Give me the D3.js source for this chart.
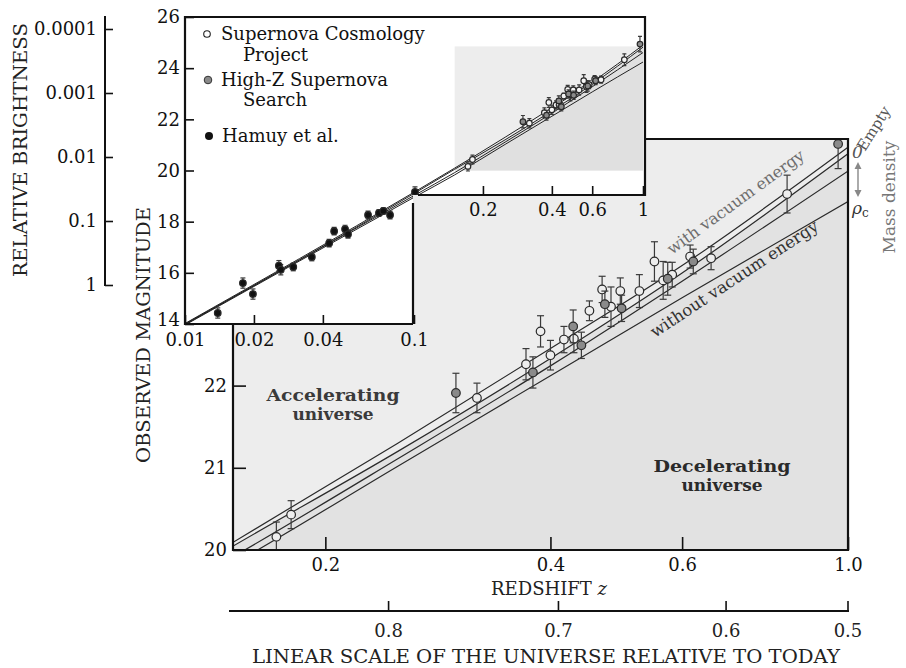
<!DOCTYPE html>
<html><head><meta charset="utf-8">
<script src="https://cdn.jsdelivr.net/npm/d3@7"></script>
<style>
body{margin:0;background:#fff}
svg{display:block;font-family:"DejaVu Serif",serif}
</style>
</head><body><script>
// Model magnitude-redshift curves
const curveZ = [0.01, 0.1, 0.15, 0.25, 0.4, 0.6, 1.0];
const withVacuum      = [14.02, 19.15, 20.085, 21.30, 22.45, 23.46, 24.90];
const emptyUniverse   = [14.00, 19.10, 20.04, 21.20, 22.33, 23.37, 24.82];
const halfDensity     = [13.98, 19.02, 19.91, 21.11, 22.24, 23.27, 24.61];
const criticalDensity = [13.96, 18.95, 19.82, 21.02, 22.12, 23.07, 24.24];

// Supernova Cosmology Project
const scpZ   = [0.172, 0.180, 0.319, 0.371, 0.388, 0.400, 0.417, 0.430, 0.451, 0.469, 0.482, 0.496, 0.526, 0.551, 0.566, 0.582, 0.615, 0.656, 0.829];
const scpMag = [20.16, 20.43, 21.85, 22.26, 22.66, 22.37, 22.56, 22.57, 22.91, 23.17, 22.96, 23.15, 23.15, 23.51, 23.28, 23.35, 23.57, 23.55, 24.33];
const scpErr = [0.18, 0.17, 0.18, 0.19, 0.19, 0.18, 0.16, 0.17, 0.12, 0.16, 0.24, 0.16, 0.20, 0.24, 0.23, 0.15, 0.14, 0.14, 0.23];

// High-Z Supernova Search
const hzZ   = [0.299, 0.379, 0.429, 0.440, 0.473, 0.498, 0.574, 0.621, 0.970];
const hzMag = [21.91, 22.16, 22.72, 22.49, 22.99, 22.94, 23.30, 23.51, 24.94];
const hzErr = [0.24, 0.19, 0.20, 0.16, 0.16, 0.16, 0.20, 0.15, 0.30];

// Hamuy et al. (nearby supernovae)
const hamZ   = [0.0139, 0.0179, 0.0198, 0.0257, 0.0262, 0.0297, 0.0358, 0.0426, 0.0448, 0.0500, 0.0515, 0.0630, 0.0703, 0.0735, 0.0786, 0.101];
const hamMag = [14.43, 15.60, 15.17, 16.28, 16.12, 16.23, 16.62, 17.16, 17.63, 17.71, 17.51, 18.26, 18.34, 18.42, 18.26, 19.16];
const hamErr = [0.2, 0.2, 0.2, 0.2, 0.2, 0.15, 0.15, 0.15, 0.15, 0.15, 0.15, 0.15, 0.12, 0.12, 0.15, 0.2];

// Axis ticks
const mainZTicks = [0.2, 0.4, 0.6, 1.0];
const mainMagTicks = [20, 21, 22];
const insetMagTicks = [14, 16, 18, 20, 22, 24, 26];
const insetZTicksLow = [0.01, 0.02, 0.04, 0.1];
const insetZTicksHigh = [0.2, 0.4, 0.6, 1];
const brightnessTicks = [0.0001, 0.001, 0.01, 0.1, 1];
const scaleFactorTicks = [0.8, 0.7, 0.6, 0.5];
const scaleFactorTickZ = [0.243, 0.41, 0.687, 1.0];

const W = 906, H = 668;
const svg = d3.select("body").append("svg").attr("width", W).attr("height", H);
const defs = svg.append("defs");

const curves = [withVacuum, emptyUniverse, halfDensity, criticalDensity];
const scp = scpZ.map((z, i) => ({z, m: scpMag[i], e: scpErr[i]}));
const hz = hzZ.map((z, i) => ({z, m: hzMag[i], e: hzErr[i]}));
const ham = hamZ.map((z, i) => ({z, m: hamMag[i], e: hamErr[i]}));

// ---------- main panel ----------
const M = {l: 233, r: 848, t: 139, b: 550};
const xMain = d3.scaleLog().domain([0.1505, 1]).range([M.l, M.r]);
const yMain = d3.scaleLinear().domain([20, 25]).range([M.b, M.t]);

defs.append("clipPath").attr("id", "clipMain").append("rect")
  .attr("x", M.l).attr("y", M.t).attr("width", M.r - M.l).attr("height", M.b - M.t);

const main = svg.append("g");
main.append("rect").attr("x", M.l).attr("y", M.t).attr("width", M.r - M.l).attr("height", M.b - M.t)
  .attr("fill", "#ededed");

const mainClip = main.append("g").attr("clip-path", "url(#clipMain)");
mainClip.append("path")
  .datum(curveZ.map((z, i) => [z, emptyUniverse[i]]))
  .attr("fill", "#e2e2e2")
  .attr("d", d3.area().x(d => xMain(d[0])).y0(yMain(19)).y1(d => yMain(d[1])).curve(d3.curveMonotoneX));

const lineMain = d3.line().x(d => xMain(d[0])).y(d => yMain(d[1])).curve(d3.curveMonotoneX);
curves.forEach(c => {
  mainClip.append("path").datum(curveZ.map((z, i) => [z, c[i]]))
    .attr("fill", "none").attr("stroke", "#2a2a2a").attr("stroke-width", 1.2).attr("d", lineMain);
});

// region and curve labels
main.append("text").attr("x", 333).attr("y", 401).attr("text-anchor", "middle")
  .attr("font-size", 17).attr("font-weight", "bold").attr("fill", "#3a3a3a")
  .attr("textLength", 133).attr("lengthAdjust", "spacingAndGlyphs").text("Accelerating");
main.append("text").attr("x", 333).attr("y", 420).attr("text-anchor", "middle")
  .attr("font-size", 17).attr("font-weight", "bold").attr("fill", "#3a3a3a").text("universe");
main.append("text").attr("x", 722).attr("y", 472).attr("text-anchor", "middle")
  .attr("font-size", 17).attr("font-weight", "bold").attr("fill", "#2a2a2a")
  .attr("textLength", 137).attr("lengthAdjust", "spacingAndGlyphs").text("Decelerating");
main.append("text").attr("x", 722).attr("y", 491).attr("text-anchor", "middle")
  .attr("font-size", 17).attr("font-weight", "bold").attr("fill", "#2a2a2a").text("universe");

main.append("text").attr("transform", "translate(672,255) rotate(-36)")
  .attr("font-size", 16).attr("fill", "#6e6e6e").text("with vacuum energy");
main.append("text").attr("transform", "translate(655,338) rotate(-33.5)")
  .attr("font-size", 16.5).attr("fill", "#333").text("without vacuum energy");

function drawPoints(g, data, x, y, r, fill, cap) {
  const pts = g.append("g");
  data.forEach(d => {
    const cx = x(d.z), y1 = y(d.m + d.e), y2 = y(d.m - d.e);
    pts.append("line").attr("x1", cx).attr("x2", cx).attr("y1", y1).attr("y2", y2)
      .attr("stroke", "#3a3a3a").attr("stroke-width", 1.2);
    pts.append("line").attr("x1", cx - cap).attr("x2", cx + cap).attr("y1", y1).attr("y2", y1)
      .attr("stroke", "#3a3a3a").attr("stroke-width", 1.2);
    pts.append("line").attr("x1", cx - cap).attr("x2", cx + cap).attr("y1", y2).attr("y2", y2)
      .attr("stroke", "#3a3a3a").attr("stroke-width", 1.2);
  });
  data.forEach(d => {
    pts.append("circle").attr("cx", x(d.z)).attr("cy", y(d.m)).attr("r", r)
      .attr("fill", fill).attr("stroke", "#2a2a2a").attr("stroke-width", 1.2);
  });
}
drawPoints(mainClip, scp, xMain, yMain, 4.3, "#eeeeee", 3.5);
drawPoints(mainClip, hz, xMain, yMain, 4.3, "#8a8a8a", 3.5);

// main axes
const axMainX = main.append("g").attr("transform", `translate(0,${M.b})`)
  .call(d3.axisBottom(xMain).tickValues(mainZTicks).tickFormat(d3.format(".1f"))
    .tickSizeInner(-13).tickSizeOuter(0).tickPadding(8));
const axMainY = main.append("g").attr("transform", `translate(${M.l},0)`)
  .call(d3.axisLeft(yMain).tickValues(mainMagTicks).tickFormat(d3.format("d"))
    .tickSizeInner(-13).tickSizeOuter(0).tickPadding(6));
[axMainX, axMainY].forEach(a => {
  a.select(".domain").remove();
  a.selectAll("line").attr("stroke", "#111").attr("stroke-width", 1.6);
  a.selectAll("text").attr("font-size", 18).attr("fill", "#111").attr("font-family", "DejaVu Serif");
});
main.append("path").attr("fill", "none").attr("stroke", "#111").attr("stroke-width", 2.2)
  .attr("d", `M${M.l},324 V${M.b} H${M.r} V${M.t} H645`);

// ---------- inset panel ----------
const I = {l: 185, r: 645, t: 17, b: 324, stepX: 413, stepY: 195};
const xIn = d3.scaleLog().domain([0.01, 1]).range([I.l, 643]);
const yIn = d3.scaleLinear().domain([14, 26]).range([I.b, I.t]);
const insetShape = `M${I.l},${I.t} H${I.r} V${I.stepY} H${I.stepX} V${I.b} H${I.l} Z`;

defs.append("clipPath").attr("id", "clipInset").append("path").attr("d", insetShape);
const inset = svg.append("g");
inset.append("path").attr("d", insetShape).attr("fill", "#fff");

const zoomBox = {x0: xIn(0.1505), x1: xIn(1), y0: yIn(24.85), y1: yIn(20)};
defs.append("clipPath").attr("id", "clipBox").append("rect")
  .attr("x", zoomBox.x0).attr("y", zoomBox.y0)
  .attr("width", zoomBox.x1 - zoomBox.x0).attr("height", zoomBox.y1 - zoomBox.y0);
inset.append("rect").attr("x", zoomBox.x0).attr("y", zoomBox.y0)
  .attr("width", zoomBox.x1 - zoomBox.x0).attr("height", zoomBox.y1 - zoomBox.y0).attr("fill", "#ededed");
inset.append("path").attr("clip-path", "url(#clipBox)")
  .datum(curveZ.map((z, i) => [z, emptyUniverse[i]]))
  .attr("fill", "#e0e0e0")
  .attr("d", d3.area().x(d => xIn(d[0])).y0(yIn(19)).y1(d => yIn(d[1])).curve(d3.curveMonotoneX));

const insetClip = inset.append("g").attr("clip-path", "url(#clipInset)");
const lineIn = d3.line().x(d => xIn(d[0])).y(d => yIn(d[1])).curve(d3.curveMonotoneX);
curves.forEach(c => {
  insetClip.append("path").datum(curveZ.map((z, i) => [z, c[i]]))
    .attr("fill", "none").attr("stroke", "#222").attr("stroke-width", 1).attr("d", lineIn);
});
drawPoints(insetClip, ham, xIn, yIn, 3.3, "#111", 2.5);
drawPoints(insetClip, scp, xIn, yIn, 2.8, "#f4f4f4", 2);
drawPoints(insetClip, hz, xIn, yIn, 2.8, "#8a8a8a", 2);

const axInY = inset.append("g").attr("transform", `translate(${I.l},0)`)
  .call(d3.axisLeft(yIn).tickValues(insetMagTicks).tickFormat(d3.format("d"))
    .tickSizeInner(-9).tickSizeOuter(0).tickPadding(5));
const axInXLow = inset.append("g").attr("transform", `translate(0,${I.b})`)
  .call(d3.axisBottom(xIn).tickValues(insetZTicksLow).tickFormat(d => String(d))
    .tickSizeInner(-9).tickSizeOuter(0).tickPadding(9));
const axInXHigh = inset.append("g").attr("transform", `translate(0,${I.stepY})`)
  .call(d3.axisBottom(xIn).tickValues(insetZTicksHigh).tickFormat(d => String(d))
    .tickSizeInner(-9).tickSizeOuter(0).tickPadding(8));
[axInY, axInXLow, axInXHigh].forEach(a => {
  a.select(".domain").remove();
  a.selectAll("line").attr("stroke", "#111").attr("stroke-width", 1.6);
  a.selectAll("text").attr("font-size", 18).attr("fill", "#111").attr("font-family", "DejaVu Serif");
});
// lift the lowest magnitude label clear of the redshift labels below it
axInY.selectAll(".tick text").filter(d => d === 14).attr("dy", "0.1em");
inset.append("path").attr("fill", "none").attr("stroke", "#111").attr("stroke-width", 2.2)
  .attr("d", `M${I.stepX},${I.b} H${I.l} V${I.t} H${I.r} V${I.stepY} H418`);
inset.append("path").attr("fill", "none").attr("stroke", "#111").attr("stroke-width", 2.2)
  .attr("d", `M${I.stepX},${I.b} V203`);

// legend
const legend = inset.append("g").attr("font-size", 18).attr("fill", "#111");
legend.append("circle").attr("cx", 207).attr("cy", 34).attr("r", 3.3).attr("fill", "#fff").attr("stroke", "#222").attr("stroke-width", 1.1);
legend.append("text").attr("x", 221).attr("y", 40).text("Supernova Cosmology");
legend.append("text").attr("x", 243).attr("y", 61).text("Project");
legend.append("circle").attr("cx", 208).attr("cy", 80).attr("r", 3.8).attr("fill", "#8a8a8a").attr("stroke", "#333").attr("stroke-width", 1);
legend.append("text").attr("x", 221).attr("y", 86).text("High-Z Supernova");
legend.append("text").attr("x", 243).attr("y", 106).text("Search");
legend.append("circle").attr("cx", 209).attr("cy", 136).attr("r", 4).attr("fill", "#111");
legend.append("text").attr("x", 222).attr("y", 142).text("Hamuy et al.");

// ---------- relative brightness scale ----------
const yBright = d3.scaleLog().domain([1, 0.0001]).range([285, 29]);
const axBright = svg.append("g").attr("transform", "translate(105,0)")
  .call(d3.axisLeft(yBright).tickValues(brightnessTicks).tickFormat(d => d >= 1 ? "1" : d3.format("")(d))
    .tickSizeInner(-8).tickSizeOuter(0).tickPadding(8));
axBright.select(".domain").remove();
axBright.selectAll("line").attr("stroke", "#111").attr("stroke-width", 1.6);
axBright.selectAll("text").attr("font-size", 18).attr("fill", "#111").attr("font-family", "DejaVu Serif");
svg.append("line").attr("x1", 105).attr("x2", 105).attr("y1", 16).attr("y2", 286)
  .attr("stroke", "#111").attr("stroke-width", 2);

svg.append("text").attr("transform", "translate(27,150) rotate(-90)").attr("text-anchor", "middle")
  .attr("font-size", 18).attr("fill", "#222").attr("textLength", 254).attr("lengthAdjust", "spacingAndGlyphs")
  .text("RELATIVE BRIGHTNESS");
svg.append("text").attr("transform", "translate(150,335) rotate(-90)").attr("text-anchor", "middle")
  .attr("font-size", 18).attr("fill", "#222").attr("textLength", 256).attr("lengthAdjust", "spacingAndGlyphs")
  .text("OBSERVED MAGNITUDE");

// ---------- redshift title and scale-factor axis ----------
const zTitle = svg.append("text").attr("x", 549).attr("y", 595).attr("text-anchor", "middle")
  .attr("font-size", 18).attr("fill", "#222");
zTitle.append("tspan").text("REDSHIFT ");
zTitle.append("tspan").attr("font-style", "italic").text("z");

const sfY = 611;
svg.append("line").attr("x1", 229).attr("x2", xMain(1) + 1).attr("y1", sfY).attr("y2", sfY)
  .attr("stroke", "#111").attr("stroke-width", 2);
const sf = svg.append("g");
scaleFactorTicks.forEach((a, i) => {
  const x = xMain(scaleFactorTickZ[i]);
  sf.append("line").attr("x1", x).attr("x2", x).attr("y1", sfY).attr("y2", sfY - 10)
    .attr("stroke", "#111").attr("stroke-width", 1.6);
  sf.append("text").attr("x", x).attr("y", sfY + 26).attr("text-anchor", "middle")
    .attr("font-size", 18).attr("fill", "#222").text(d3.format(".1f")(a));
});
svg.append("text").attr("x", 546).attr("y", 663).attr("text-anchor", "middle")
  .attr("font-size", 18).attr("fill", "#222").attr("textLength", 588).attr("lengthAdjust", "spacingAndGlyphs")
  .text("LINEAR SCALE OF THE UNIVERSE RELATIVE TO TODAY");

// ---------- mass density annotation ----------
const ann = svg.append("g").attr("fill", "#555");
ann.append("text").attr("x", 852).attr("y", 158).attr("font-size", 17).attr("font-style", "italic").text("0");
ann.append("text").attr("transform", "translate(865,152) rotate(-58)").attr("font-size", 15).text("Empty");
ann.append("line").attr("x1", 858).attr("x2", 858).attr("y1", 167).attr("y2", 192)
  .attr("stroke", "#888").attr("stroke-width", 1.4);
ann.append("path").attr("d", "M858,162 l-3.5,7 h7 Z M858,197 l-3.5,-7 h7 Z").attr("fill", "#888");
const rho = ann.append("text").attr("x", 852).attr("y", 214).attr("font-size", 17).attr("fill", "#333");
rho.append("tspan").attr("font-style", "italic").text("ρ");
rho.append("tspan").attr("font-size", 12).attr("dy", 3).text("c");
ann.append("text").attr("transform", "translate(895,197) rotate(-90)").attr("text-anchor", "middle")
  .attr("font-size", 17).attr("fill", "#777").text("Mass density");
</script></body></html>
